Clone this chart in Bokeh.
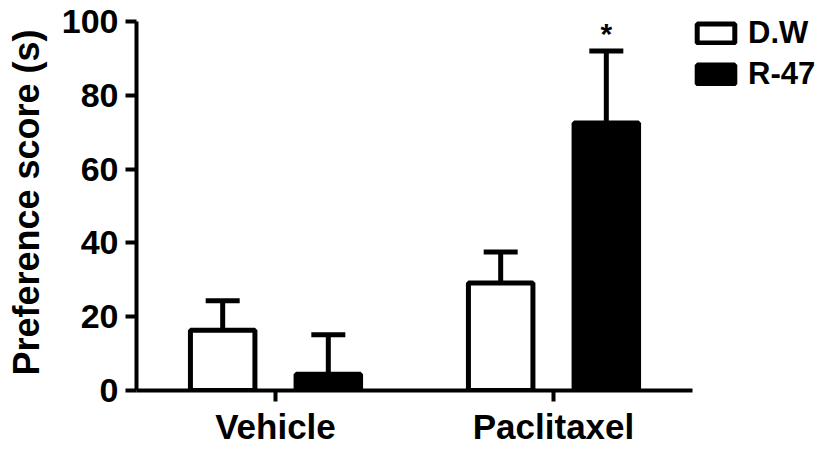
import numpy as np
from bokeh.plotting import figure
from bokeh.models import Range1d, FixedTicker, Legend, LegendItem, ColumnDataSource
from bokeh.core.properties import value
from bokeh.embed import file_html
from bokeh.resources import INLINE

groups = ["Vehicle", "Paclitaxel"]
series = ["D.W", "R-47"]
dw_mean = [16.3, 29.1]
dw_err = [8.0, 8.4]
r47_mean = [4.4, 72.5]
r47_err = [10.7, 19.5]
r47_sig = ["", "*"]
y_ticks = [0, 20, 40, 60, 80, 100]

FONT = "Liberation Sans"

# layout (pixels)
WIDTH, HEIGHT = 816, 448
LEFT, BOTTOM_Y, FRAME_TOP = 136, 392, 14  # frame left edge, y of the zero line, frame top
AXIS_RIGHT, TOP_TICK_Y = 692, 21          # where the x axis ends, y of the 100 tick

centers = np.arange(len(groups)) + 0.5
x_end = len(groups) * (WIDTH - LEFT) / (AXIS_RIGHT - LEFT)
y_end = y_ticks[-1] * (BOTTOM_Y - FRAME_TOP) / (BOTTOM_Y - TOP_TICK_Y)

W = 0.232
OFF = 0.19
LW = 5

src = ColumnDataSource(dict(
    xdw=centers - OFF,
    xr=centers + OFF,
    dw=dw_mean,
    dw_up=[m + e for m, e in zip(dw_mean, dw_err)],
    r47=r47_mean,
    r47_up=[m + e for m, e in zip(r47_mean, r47_err)],
    sig=r47_sig,
))

p = figure(x_range=Range1d(0, x_end), y_range=Range1d(0, y_end),
           width=WIDTH, height=HEIGHT, output_backend="svg", toolbar_location=None,
           min_border_left=LEFT, min_border_right=0, min_border_top=FRAME_TOP,
           min_border_bottom=HEIGHT - BOTTOM_Y)
p.outline_line_color = None
p.xgrid.grid_line_color = None
p.ygrid.grid_line_color = None
p.background_fill_color = "white"

# error bars (upper only)
for xc, col, up in [("xdw", "dw", "dw_up"), ("xr", "r47", "r47_up")]:
    p.segment(x0=xc, y0=col, x1=xc, y1=up, source=src, line_color="black", line_width=LW)
    p.scatter(x=xc, y=up, source=src, marker="dash", size=34,
              line_color="black", line_width=LW)

r_dw = p.vbar(x="xdw", top="dw", width=W, source=src,
              fill_color="white", line_color="black", line_width=LW)
r_r47 = p.vbar(x="xr", top="r47", width=W, source=src,
               fill_color="black", line_color="black", line_width=LW)

p.text(x="xr", y="r47_up", text="sig", source=src,
       text_font=value(FONT), text_font_style="bold", text_font_size="30px",
       text_align="center", text_baseline="alphabetic", y_offset=-17, text_color="black")

for ax in (p.xaxis[0], p.yaxis[0]):
    ax.axis_line_width = 4
    ax.axis_line_color = "black"
    ax.major_tick_line_width = 4
    ax.major_tick_line_color = "black"
    ax.major_tick_in = 0
    ax.major_tick_out = 11
    ax.minor_tick_line_color = None
    ax.major_label_text_font = FONT
    ax.major_label_text_font_style = "bold"
    ax.major_label_text_font_size = "34px"
    ax.major_label_text_color = "black"

p.xaxis.bounds = (0, len(groups))
p.xaxis.ticker = FixedTicker(ticks=list(centers))
p.xaxis.major_label_overrides = {float(c): g for c, g in zip(centers, groups)}
p.xaxis.major_label_text_font_size = "35px"
p.xaxis.major_label_standoff = 5

p.yaxis.bounds = (y_ticks[0], y_ticks[-1])
p.yaxis.ticker = FixedTicker(ticks=y_ticks)
p.yaxis.major_label_standoff = 7
p.yaxis.axis_label = "Preference score (s)"
p.yaxis.axis_label_text_font = FONT
p.yaxis.axis_label_text_font_style = "bold"
p.yaxis.axis_label_text_font_size = "36px"
p.yaxis.axis_label_text_color = "black"
p.yaxis.axis_label_standoff = 12

legend = Legend(items=[LegendItem(label=series[0], renderers=[r_dw]),
                       LegendItem(label=series[1], renderers=[r_r47])],
                location=(556, 298), padding=0, margin=0, spacing=5,
                glyph_width=47, glyph_height=24, label_height=24,
                label_standoff=9, border_line_color=None, background_fill_alpha=0,
                label_text_font=FONT, label_text_font_style="bold",
                label_text_font_size="31px", label_text_color="black")
p.add_layout(legend)

open("out.html", "w").write(file_html(p, INLINE))
